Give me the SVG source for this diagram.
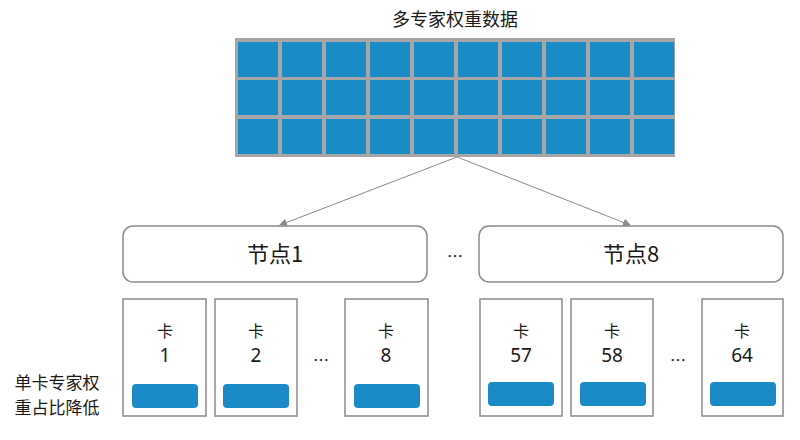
<svg xmlns="http://www.w3.org/2000/svg" width="800" height="440" viewBox="0 0 800 440">
<defs>
<style>
text{font-family:"Noto Sans CJK SC","Noto Sans",sans-serif;fill:#1a1a1a;text-anchor:middle}
.cell{fill:#1a8bc7}
.node{fill:#fff;stroke:#8a8a8a;stroke-width:1.5}
.card{fill:#fff;stroke:#8a8a8a;stroke-width:1.5}
.bar{fill:#1a8bc7}
.conn{stroke:#8a8a8a;stroke-width:1;fill:none;marker-end:url(#ah)}
.t18{font-size:18px}
.t17{font-size:17px}
.k{font-size:16px}
.num{font-family:"Noto Sans","Open Sans",sans-serif;font-size:19px}
.t22{font-size:22px}
.dots{font-size:16px}
</style>
<marker id="ah" markerWidth="8" markerHeight="8" refX="7" refY="4" orient="auto" markerUnits="userSpaceOnUse">
<path d="M0,0 L8,4 L0,8 z" fill="#8a8a8a"/>
</marker>
<rect id="c" width="40" height="35"/>
</defs>
<rect width="800" height="440" fill="#fff"/>
<g id="weights">
<text class="t18" x="455" y="26">多专家权重数据</text>
<rect x="235" y="38" width="440" height="119" fill="#a6a6a6"/>
<g class="cell">
<use href="#c" x="238" y="42"/><use href="#c" x="282" y="42"/><use href="#c" x="326" y="42"/><use href="#c" x="370" y="42"/><use href="#c" x="414" y="42"/><use href="#c" x="458" y="42"/><use href="#c" x="502" y="42"/><use href="#c" x="546" y="42"/><use href="#c" x="590" y="42"/><use href="#c" x="634" y="42"/>
<use href="#c" x="238" y="80"/><use href="#c" x="282" y="80"/><use href="#c" x="326" y="80"/><use href="#c" x="370" y="80"/><use href="#c" x="414" y="80"/><use href="#c" x="458" y="80"/><use href="#c" x="502" y="80"/><use href="#c" x="546" y="80"/><use href="#c" x="590" y="80"/><use href="#c" x="634" y="80"/>
<use href="#c" x="238" y="119"/><use href="#c" x="282" y="119"/><use href="#c" x="326" y="119"/><use href="#c" x="370" y="119"/><use href="#c" x="414" y="119"/><use href="#c" x="458" y="119"/><use href="#c" x="502" y="119"/><use href="#c" x="546" y="119"/><use href="#c" x="590" y="119"/><use href="#c" x="634" y="119"/>
</g>
</g>
<g id="connectors">
<line class="conn" x1="457" y1="157" x2="280" y2="225"/>
<line class="conn" x1="457" y1="157" x2="630" y2="225"/>
</g>
<g id="node1">
<rect class="node" x="123" y="226" width="304" height="56" rx="10"/>
<text class="t22" x="275" y="262">节点1</text>
</g>
<text class="dots" x="455" y="262">…</text>
<g id="node8">
<rect class="node" x="479" y="226" width="304" height="56" rx="10"/>
<text class="t22" x="631" y="262">节点8</text>
</g>
<g id="card1">
<rect class="card" x="123" y="299" width="83" height="117"/>
<text class="k" x="165" y="337">卡</text><text class="num" x="165" y="362">1</text>
<rect class="bar" x="132" y="384" width="66" height="24" rx="4"/>
</g>
<g id="card2">
<rect class="card" x="215" y="299" width="82" height="117"/>
<text class="k" x="256" y="337">卡</text><text class="num" x="256" y="362">2</text>
<rect class="bar" x="223" y="384" width="66" height="24" rx="4"/>
</g>
<text class="dots" x="321" y="366">…</text>
<g id="card8">
<rect class="card" x="345" y="299" width="83" height="117"/>
<text class="k" x="386" y="337">卡</text><text class="num" x="386" y="362">8</text>
<rect class="bar" x="354" y="384" width="66" height="24" rx="4"/>
</g>
<g id="card57">
<rect class="card" x="480" y="299" width="82" height="117"/>
<text class="k" x="521" y="337">卡</text><text class="num" x="521" y="362">57</text>
<rect class="bar" x="488" y="382" width="66" height="24" rx="4"/>
</g>
<g id="card58">
<rect class="card" x="571" y="299" width="82" height="117"/>
<text class="k" x="612" y="337">卡</text><text class="num" x="612" y="362">58</text>
<rect class="bar" x="580" y="382" width="66" height="24" rx="4"/>
</g>
<text class="dots" x="678" y="366">…</text>
<g id="card64">
<rect class="card" x="702" y="299" width="81" height="117"/>
<text class="k" x="742" y="337">卡</text><text class="num" x="742" y="362">64</text>
<rect class="bar" x="710" y="382" width="66" height="24" rx="4"/>
</g>
<g id="label">
<text class="t17" x="57" y="389">单卡专家权</text>
<text class="t17" x="57" y="414">重占比降低</text>
</g>
</svg>
